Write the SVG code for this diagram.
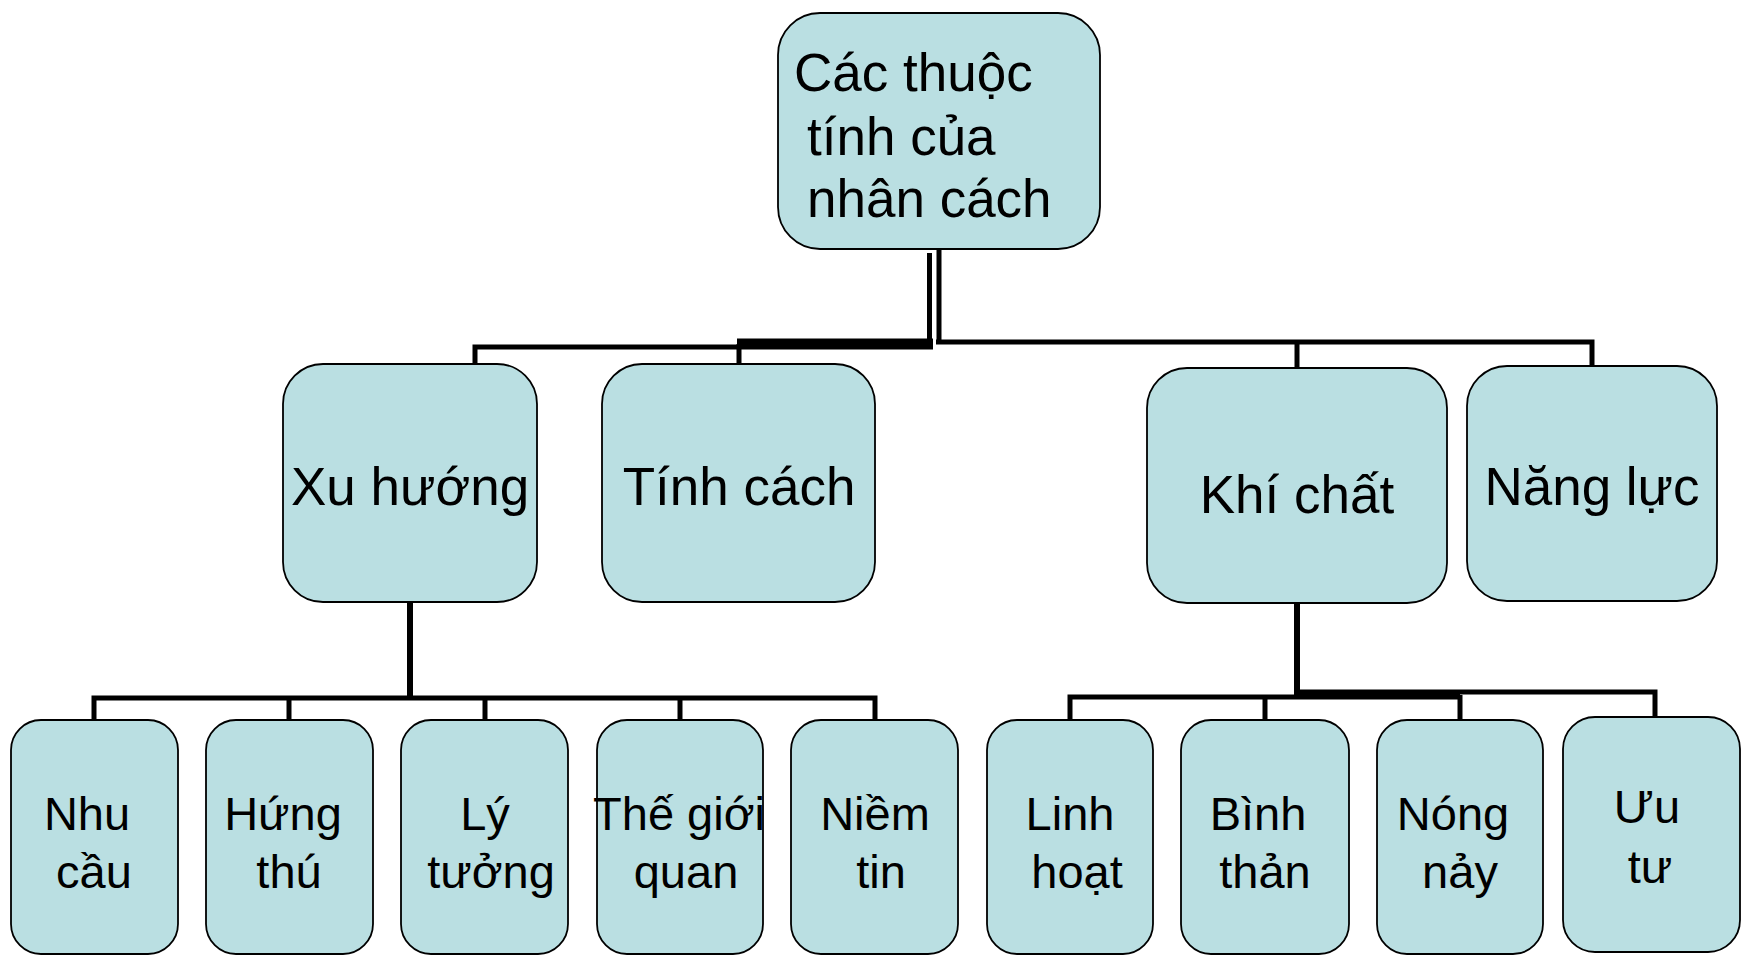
<svg xmlns="http://www.w3.org/2000/svg" width="1742" height="955" viewBox="0 0 1742 955">
  <style>
    .box { fill: #BADFE2; stroke: #000; stroke-width: 1.8; }
    .lbl { font-family: "Liberation Sans", Arial, sans-serif; fill: #000; }
    .big { font-size: 53px; }
    .small { font-size: 47px; }
    .mid { text-anchor: middle; }
    .wire { fill: none; stroke: #000; stroke-width: 5; stroke-linecap: butt; stroke-linejoin: miter; }
  </style>
  <rect width="1742" height="955" fill="#fff"/>

  <!-- connectors -->
  <g id="connectors">
    <!-- root to second level -->
    <path class="wire" d="M929.5,253 V345"/>
    <path class="wire" d="M939,249 V342"/>
    <path class="wire" d="M475,364 V347 H740"/>
    <path class="wire" d="M739,364 V344"/>
    <path class="wire" style="stroke-width:11" d="M737,344 H933"/>
    <path class="wire" d="M936,342 H1592 V366"/>
    <path class="wire" d="M1297,342 V368"/>
    <!-- Xu hướng to its children -->
    <path class="wire" style="stroke-width:6" d="M410,602 V698"/>
    <path class="wire" d="M94,720 V698 H875 V720"/>
    <path class="wire" d="M289,698 V720"/>
    <path class="wire" d="M485,698 V720"/>
    <path class="wire" d="M680,698 V720"/>
    <!-- Khí chất to its children -->
    <path class="wire" style="stroke-width:6" d="M1297,603 V699"/>
    <path class="wire" d="M1070,720 V697 H1297"/>
    <path class="wire" d="M1297,692 H1655 V717"/>
    <path class="wire" style="stroke-width:9" d="M1297,695 H1460"/>
    <path class="wire" d="M1265,697 V720"/>
    <path class="wire" d="M1460,695 V720"/>
  </g>

  <!-- root -->
  <g id="root">
    <rect class="box" x="778" y="13" width="322" height="236" rx="42" ry="42"/>
    <text class="lbl big" x="794" y="91">Các thuộc</text>
    <text class="lbl big" x="807" y="155">tính của</text>
    <text class="lbl big" x="807" y="217">nhân cách</text>
  </g>

  <!-- second level -->
  <g id="xu-huong">
    <rect class="box" x="283" y="364" width="254" height="238" rx="40" ry="40"/>
    <text class="lbl big mid" x="410" y="505">Xu hướng</text>
  </g>
  <g id="tinh-cach">
    <rect class="box" x="602" y="364" width="273" height="238" rx="40" ry="40"/>
    <text class="lbl big mid" x="739" y="505">Tính cách</text>
  </g>
  <g id="khi-chat">
    <rect class="box" x="1147" y="368" width="300" height="235" rx="40" ry="40"/>
    <text class="lbl big mid" x="1297" y="513">Khí chất</text>
  </g>
  <g id="nang-luc">
    <rect class="box" x="1467" y="366" width="250" height="235" rx="40" ry="40"/>
    <text class="lbl big mid" x="1592" y="505">Năng lực</text>
  </g>

  <!-- third level -->
  <g id="nhu-cau">
    <rect class="box" x="11" y="720" width="167" height="234" rx="30" ry="30"/>
    <text class="lbl small mid" x="87" y="830">Nhu</text>
    <text class="lbl small mid" x="94" y="888">cầu</text>
  </g>
  <g id="hung-thu">
    <rect class="box" x="206" y="720" width="167" height="234" rx="30" ry="30"/>
    <text class="lbl small mid" x="283" y="830">Hứng</text>
    <text class="lbl small mid" x="289" y="888">thú</text>
  </g>
  <g id="ly-tuong">
    <rect class="box" x="401" y="720" width="167" height="234" rx="30" ry="30"/>
    <text class="lbl small mid" x="485" y="830">Lý</text>
    <text class="lbl small mid" x="491" y="888">tưởng</text>
  </g>
  <g id="the-gioi-quan">
    <rect class="box" x="597" y="720" width="166" height="234" rx="30" ry="30"/>
    <text class="lbl small mid" x="679" y="830">Thế giới</text>
    <text class="lbl small mid" x="686" y="888">quan</text>
  </g>
  <g id="niem-tin">
    <rect class="box" x="791" y="720" width="167" height="234" rx="30" ry="30"/>
    <text class="lbl small mid" x="875" y="830">Niềm</text>
    <text class="lbl small mid" x="881" y="888">tin</text>
  </g>
  <g id="linh-hoat">
    <rect class="box" x="987" y="720" width="166" height="234" rx="30" ry="30"/>
    <text class="lbl small mid" x="1070" y="830">Linh</text>
    <text class="lbl small mid" x="1077" y="888">hoạt</text>
  </g>
  <g id="binh-than">
    <rect class="box" x="1181" y="720" width="168" height="234" rx="30" ry="30"/>
    <text class="lbl small mid" x="1258" y="830">Bình</text>
    <text class="lbl small mid" x="1265" y="888">thản</text>
  </g>
  <g id="nong-nay">
    <rect class="box" x="1377" y="720" width="166" height="234" rx="30" ry="30"/>
    <text class="lbl small mid" x="1453" y="830">Nóng</text>
    <text class="lbl small mid" x="1460" y="888">nảy</text>
  </g>
  <g id="uu-tu">
    <rect class="box" x="1563" y="717" width="177" height="235" rx="32" ry="32"/>
    <text class="lbl small mid" x="1647" y="823">Ưu</text>
    <text class="lbl small mid" x="1650" y="883">tư</text>
  </g>
</svg>
